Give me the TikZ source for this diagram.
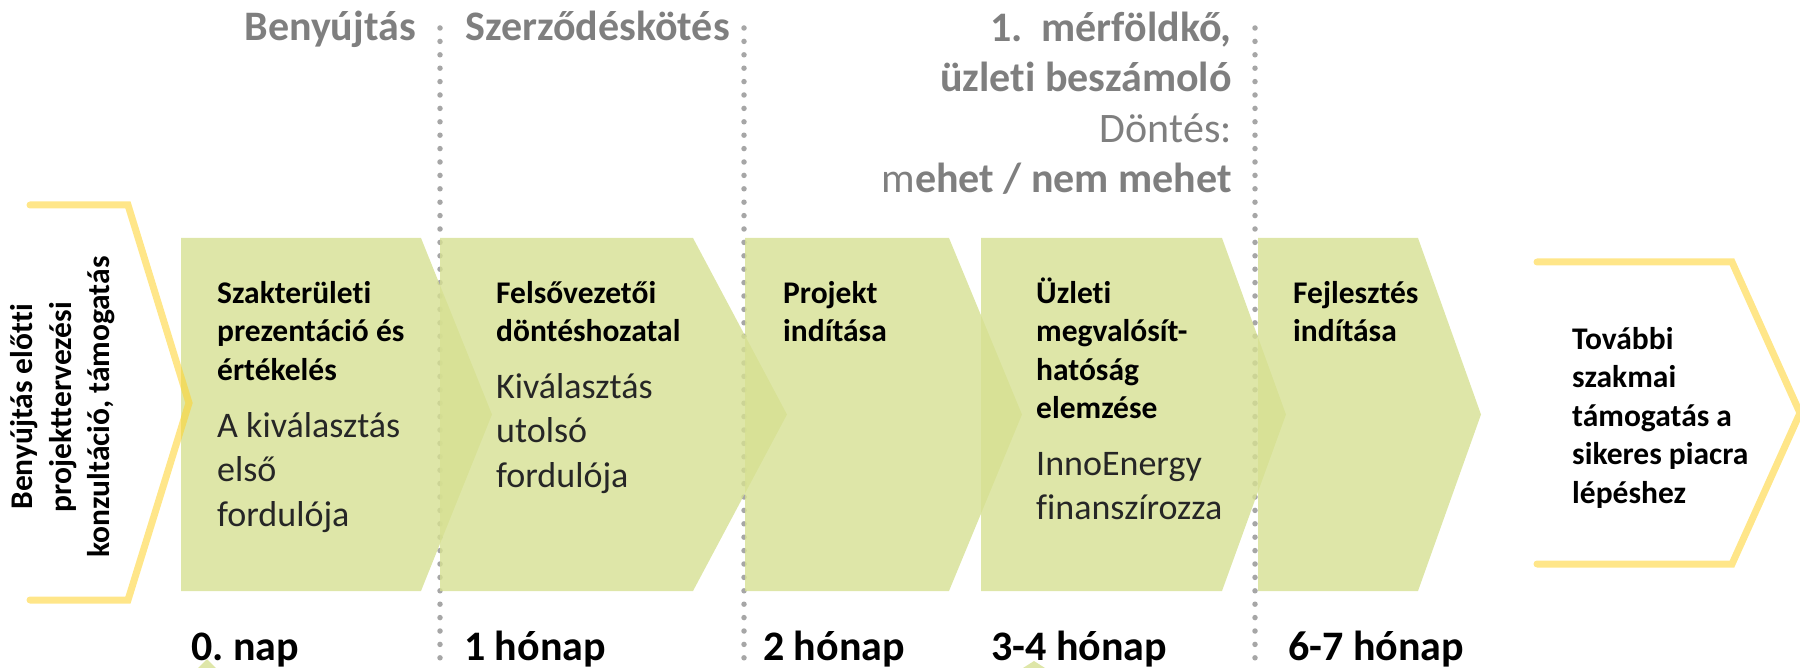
\documentclass[tikz,border=0pt]{standalone}
\usepackage{fontspec}
\setmainfont{Carlito}[Ligatures=NoCommon]
\definecolor{boxgreen}{RGB}{214,224,146}
\definecolor{chevyellow}{RGB}{255,210,40}
\definecolor{dotgrey}{RGB}{166,166,166}
\definecolor{labelgrey}{RGB}{127,127,127}
\newcommand{\tstrut}{\rule{0pt}{30pt}}
\newcommand{\sstrut}{\rule{0pt}{34pt}}
\newcommand{\lstrut}{\rule{0pt}{40pt}}
\frenchspacing
\begin{document}
\begin{tikzpicture}[x=1pt,y=-1pt,
  stage/.style={fill=boxgreen, fill opacity=0.8, draw=none},
  chev/.style={draw=chevyellow, draw opacity=0.55, line width=7pt, line join=miter, line cap=round},
  dotline/.style={draw=dotgrey, line width=5.5pt, line cap=round, dash pattern=on 0pt off 13.4pt},
  title/.style={anchor=north west, inner sep=0pt, align=left, font=\fontsize{31.5}{38.5}\selectfont\bfseries},
  sub/.style={anchor=north west, inner sep=0pt, align=left, font=\fontsize{36}{44.5}\selectfont, text=black!85},
  toplabel/.style={inner sep=0pt, text=labelgrey, font=\fontsize{42}{50.5}\selectfont\bfseries},
  timelabel/.style={anchor=base west, inner sep=0pt, font=\fontsize{42}{50}\selectfont\bfseries}
]
\useasboundingbox (0,0) rectangle (1800,668);

% dotted separators
\coordinate (d1t) at (440,28);  \coordinate (d1b) at (440,668);
\coordinate (d2t) at (744,28);  \coordinate (d2b) at (744,668);
\coordinate (d3t) at (1255,28); \coordinate (d3b) at (1255,668);
\draw[dotline] (d1t) -- (d1b);
\draw[dotline] (d2t) -- (d2b);
\draw[dotline] (d3t) -- (d3b);

% stage chevrons
\fill[stage] (181,238) -- (421,238) -- (492,414.5) -- (421,591) -- (181,591) -- cycle;
\fill[stage] (440,238) -- (693,238) -- (787,414.5) -- (693,591) -- (440,591) -- cycle;
\fill[stage] (745,238) -- (949,238) -- (1022,414.5) -- (949,591) -- (745,591) -- cycle;
\fill[stage] (981,238) -- (1222,238) -- (1286,414.5) -- (1222,591) -- (981,591) -- cycle;
\fill[stage] (1258,238) -- (1418,238) -- (1481,414.5) -- (1418,591) -- (1258,591) -- cycle;

% small tips at bottom edge
\fill[stage] (207,659) -- (216,668) -- (198,668) -- cycle;
\fill[stage] (1034,661) -- (1045,668) -- (1023,668) -- cycle;

% yellow open chevrons
\draw[chev] (30,205) -- (128,205) -- (189,403) -- (128,600) -- (30,600);
\draw[chev] (1537,262) -- (1732,262) -- (1800,413) -- (1732,564) -- (1537,564);

% left vertical text
\node[rotate=90, inner sep=0pt, align=center, font=\fontsize{31.5}{38.5}\selectfont\bfseries] (pre) at (63,407)
  {Benyújtás előtti\\projekttervezési\\konzultáció, támogatás};

% stage texts
\node[title] (t1) at (217,273) {\tstrut Szakterületi\\prezentáció és\\értékelés};
\node[sub]   (s1) at (217,403) {\sstrut A kiválasztás\\első\\fordulója};
\node[title] (t2) at (496,273) {\tstrut Felsővezetői\\döntéshozatal};
\node[sub]   (s2) at (496,364) {\sstrut Kiválasztás\\utolsó\\fordulója};
\node[title] (t3) at (783,273) {\tstrut Projekt\\indítása};
\node[title] (t4) at (1036,273) {\tstrut Üzleti\\megvalósít-\\hatóság\\elemzése};
\node[sub]   (s4) at (1036,441) {\sstrut InnoEnergy\\finanszírozza};
\node[title] (t5) at (1293,273) {\tstrut Fejlesztés\\indítása};
\node[title] (t6) at (1572,319) {\tstrut További\\szakmai\\támogatás a\\sikeres piacra\\lépéshez};

% top labels
\node[toplabel, anchor=base east] (l1) at (416,41) {Benyújtás};
\node[toplabel, anchor=base east] (l2) at (730,41) {Szerződéskötés};
\node[toplabel, anchor=north east, align=right] (l3) at (1232,1)
  {\lstrut 1.\hspace{0.45em}mérföldkő,\\üzleti beszámoló\\{\mdseries Döntés:}\\{\mdseries m}ehet / nem mehet};

% time labels
\node[timelabel] (m0) at (191,660) {0. nap};
\node[timelabel] (m1) at (464,660) {1 hónap};
\node[timelabel] (m2) at (763,660) {2 hónap};
\node[timelabel] (m3) at (991,660) {3-4 hónap};
\node[timelabel] (m4) at (1288,660) {6-7 hónap};
\end{tikzpicture}
\end{document}
